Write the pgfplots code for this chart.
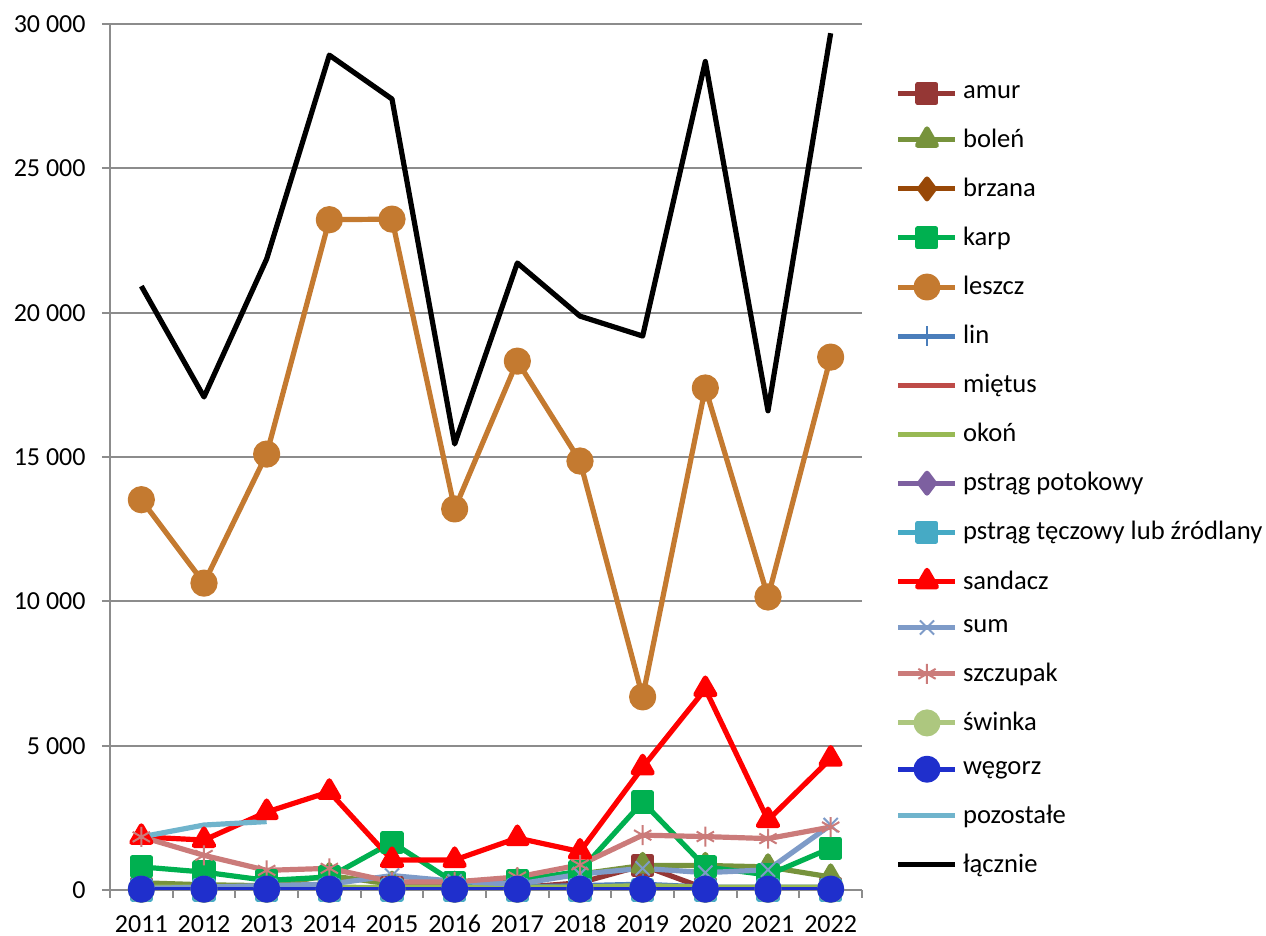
\documentclass[border=0pt]{standalone}
\usepackage{pgfplots}
\pgfplotsset{compat=1.18}
\usepackage{pgfplotstable}
\usepackage{fontspec}
\setmainfont{Carlito}
\usetikzlibrary{plotmarks}
\definecolor{cAmur}{HTML}{953735}
\definecolor{cBolen}{HTML}{77933C}
\definecolor{cBrzana}{HTML}{984807}
\definecolor{cKarp}{HTML}{00B050}
\definecolor{cLeszcz}{HTML}{C47A30}
\definecolor{cLin}{HTML}{4A7EBB}
\definecolor{cMietus}{HTML}{BE4B48}
\definecolor{cOkon}{HTML}{98B954}
\definecolor{cPotok}{HTML}{7D60A0}
\definecolor{cTecz}{HTML}{46AAC5}
\definecolor{cSandacz}{HTML}{FF0000}
\definecolor{cSum}{HTML}{7E9BC8}
\definecolor{cSzczupak}{HTML}{CB7B7A}
\definecolor{cSwinka}{HTML}{ADC77F}
\definecolor{cWegorz}{HTML}{1F2FCC}
\definecolor{cPoz}{HTML}{70B4CC}
\definecolor{cGrid}{HTML}{8C8C8C}
\pgfplotstableread{
x amur bolen brzana karp leszcz lin mietus okon potok tecz sandacz sum szczupak swinka wegorz lacznie
0 50 250 20 800 13520 80 0 100 10 0 1840 50 1840 20 30 20920
1 40 180 20 620 10630 80 0 100 10 0 1730 100 1200 20 30 17080
2 40 150 20 330 15100 80 0 100 10 0 2700 150 680 20 30 21860
3 50 500 20 450 23220 80 0 100 10 0 3400 200 750 20 30 28920
4 100 200 20 1650 23240 80 100 80 10 0 1040 500 280 20 30 27400
5 60 200 20 250 13200 80 0 80 10 0 1040 300 280 20 30 15450
6 80 300 20 320 18320 100 0 100 10 0 1800 200 450 20 30 21720
7 250 550 50 650 14860 150 0 100 10 0 1330 550 870 20 30 19880
8 850 850 50 3050 6690 200 0 150 10 0 4250 750 1900 20 30 19190
9 50 850 20 800 17390 100 0 100 10 0 6960 600 1850 20 30 28700
10 50 800 20 520 10150 100 0 100 10 0 2420 700 1780 20 30 16600
11 60 450 30 1450 18460 100 0 100 10 0 4550 2250 2180 20 30 29680
}\data
\pgfplotstableread{
x poz
0 1840
1 2250
2 2370
}\datapoz
\begin{document}
\begin{tikzpicture}
\useasboundingbox (-55pt,-23pt) rectangle (578pt,445pt);
\begin{axis}[
  at={(0pt,0pt)}, anchor=south west,
  scale only axis,
  width=376pt, height=433pt,
  xmin=-0.5, xmax=11.5,
  ymin=0, ymax=30000,
  scaled y ticks=false,
  axis x line*=bottom, axis y line*=left,
  axis line style={cGrid, line width=0.9pt, -},
  xtick={0,...,11},
  xticklabels={2011,2012,2013,2014,2015,2016,2017,2018,2019,2020,2021,2022},
  major x tick style={draw=none},
  minor xtick={-0.5,0.5,...,11.5},
  minor x tick style={cGrid, line width=0.9pt},
  minor tick length=4pt,
  xtick pos=bottom,
  ytick={0,5000,...,30000},
  yticklabels={0,5 000,10 000,15 000,20 000,25 000,30 000},
  ytick pos=left,
  major y tick style={cGrid, line width=0.9pt},
  major tick length=4pt,
  tick align=outside,
  ymajorgrids,
  major grid style={cGrid, line width=0.9pt},
  ticklabel style={font=\fontsize{13}{15}\selectfont},
  xticklabel style={text height=8.5pt, text depth=0pt, yshift=-5.2pt},
  yticklabel style={xshift=-4.7pt},
  every axis plot/.append style={line width=2.6pt, line join=round},
  mark options={solid},
  legend cell align=left,
  legend style={at={(1.0367,0.9386)}, anchor=north west, draw=none, fill=none,
    font=\fontsize{13.3}{15.3}\selectfont, row sep=9.8pt,
    nodes={inner xsep=1pt}},
  legend image code/.code={\draw[mark repeat=2,mark phase=2,#1,line width=2.5pt] plot coordinates {(0pt,0pt) (14.25pt,0pt) (28.5pt,0pt)};\path (30pt,0pt);},
]
\addplot[color=cAmur, mark=square*, mark size=4.5pt] table[y=amur]{\data};
\addlegendentry{amur}
\addplot[color=cBolen, mark=triangle*, mark size=5.5pt] table[y=bolen]{\data};
\addlegendentry{boleń}
\addplot[color=cBrzana, mark=diamond*, mark size=5pt] table[y=brzana]{\data};
\addlegendentry{brzana}
\addplot[color=cKarp, mark=square*, mark size=4.5pt] table[y=karp]{\data};
\addlegendentry{karp}
\addplot[color=cLeszcz, mark=*, mark size=5.5pt] table[y=leszcz]{\data};
\addlegendentry{leszcz}
\addplot[color=cLin, mark=+, mark size=5pt, mark options={line width=1pt}] table[y=lin]{\data};
\addlegendentry{lin}
\addplot[color=cMietus, no marks] table[y=mietus]{\data};
\addlegendentry{miętus}
\addplot[color=cOkon, no marks] table[y=okon]{\data};
\addlegendentry{okoń}
\addplot[color=cPotok, mark=diamond*, mark size=5pt] table[y=potok]{\data};
\addlegendentry{pstrąg potokowy}
\addplot[color=cTecz, mark=square*, mark size=4.5pt] table[y=tecz]{\data};
\addlegendentry{pstrąg tęczowy lub źródlany}
\addplot[color=cSandacz, mark=triangle*, mark size=5.5pt] table[y=sandacz]{\data};
\addlegendentry{sandacz}
\addplot[color=cSum, mark=x, mark size=5pt, mark options={line width=1pt}] table[y=sum]{\data};
\addlegendentry{sum}
\addplot[color=cSzczupak, mark=asterisk, mark size=5pt, mark options={line width=1pt}] table[y=szczupak]{\data};
\addlegendentry{szczupak}
\addplot[color=cSwinka, mark=*, mark size=5.5pt] table[y=swinka]{\data};
\addlegendentry{świnka}
\addplot[color=cWegorz, mark=*, mark size=5.5pt] table[y=wegorz]{\data};
\addlegendentry{węgorz}
\addplot[color=cPoz, no marks] table[y=poz]{\datapoz};
\addlegendentry{pozostałe}
\addplot[color=black, no marks] table[y=lacznie]{\data};
\addlegendentry{łącznie}
\end{axis}
\end{tikzpicture}
\end{document}
